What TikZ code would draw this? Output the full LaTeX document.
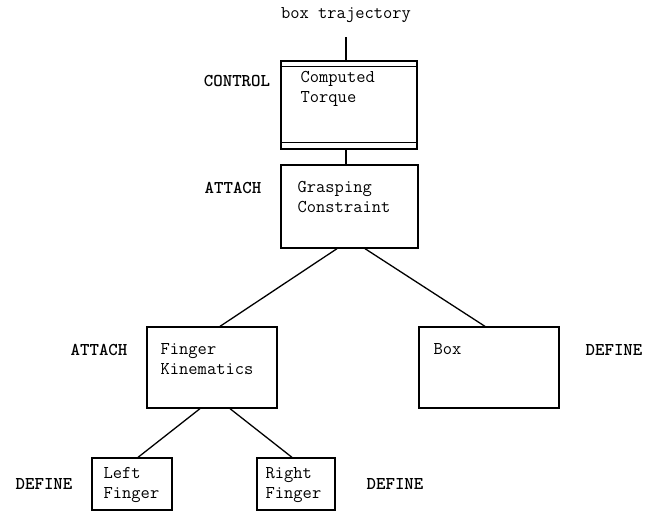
\documentclass[tikz,border=0pt]{standalone}
\begin{document}
\begin{tikzpicture}[x=1pt,y=-1pt,
  line width=1.3pt,
  every node/.style={font=\fontsize{18}{20}\selectfont\ttfamily},
  blk/.style={draw, rectangle, inner sep=0pt},
  txt/.style={anchor=north west, align=left, inner sep=0pt},
  lbl/.style={inner sep=0pt, font=\fontsize{18}{20}\selectfont\ttfamily\bfseries}]
\useasboundingbox (0,0) rectangle (655,517);

% title and incoming line
\node[inner sep=0pt] (traj) at (346,15) {box trajectory};
\coordinate (tin) at (346,37);

% boxes
\node[blk, minimum width=136pt, minimum height=88pt] (ct) at (349,105) {};
\node[blk, minimum width=137pt, minimum height=83pt] (gc) at (349.5,206.5) {};
\node[blk, minimum width=130pt, minimum height=81pt] (fk) at (212,367.5) {};
\node[blk, minimum width=140pt, minimum height=81pt] (bx) at (489,367.5) {};
\node[blk, minimum width=80pt, minimum height=52pt] (lf) at (132,484) {};
\node[blk, minimum width=78pt, minimum height=52pt] (rf) at (296,484) {};

% double rules inside the controller box (canvas shifts: positive is up)
\draw ([yshift=-6pt]ct.north west) -- ([yshift=-6pt]ct.north east);
\draw ([yshift=7pt]ct.south west) -- ([yshift=7pt]ct.south east);

% box texts
\node[txt] (ctt) at (300,71) {Computed\\Torque};
\node[txt] (gct) at (297,181) {Grasping\\Constraint};
\node[txt] (fkt) at (160,343) {Finger\\Kinematics};
\node[txt] (bxt) at (433,343) {Box};
\node[txt] (lft) at (103,467) {Left\\Finger};
\node[txt] (rft) at (265,467) {Right\\Finger};

% side labels
\node[lbl] (l1) at (237,81) {CONTROL};
\node[lbl] (l2) at (233,188) {ATTACH};
\node[lbl] (l3) at (99,350) {ATTACH};
\node[lbl] (l4) at (614,350) {DEFINE};
\node[lbl] (l5) at (44,484) {DEFINE};
\node[lbl] (l6) at (395,484) {DEFINE};

% connectors
\draw (tin) -- (tin |- ct.north);
\draw (ct.south -| tin) -- (gc.north -| tin);
\draw ([xshift=-12.5pt]gc.south) -- ([xshift=8pt]fk.north);
\draw ([xshift=15.5pt]gc.south) -- ([xshift=-4pt]bx.north);
\draw ([xshift=-12pt]fk.south) -- ([xshift=6pt]lf.north);
\draw ([xshift=18pt]fk.south) -- ([xshift=-4pt]rf.north);
\end{tikzpicture}
\end{document}
